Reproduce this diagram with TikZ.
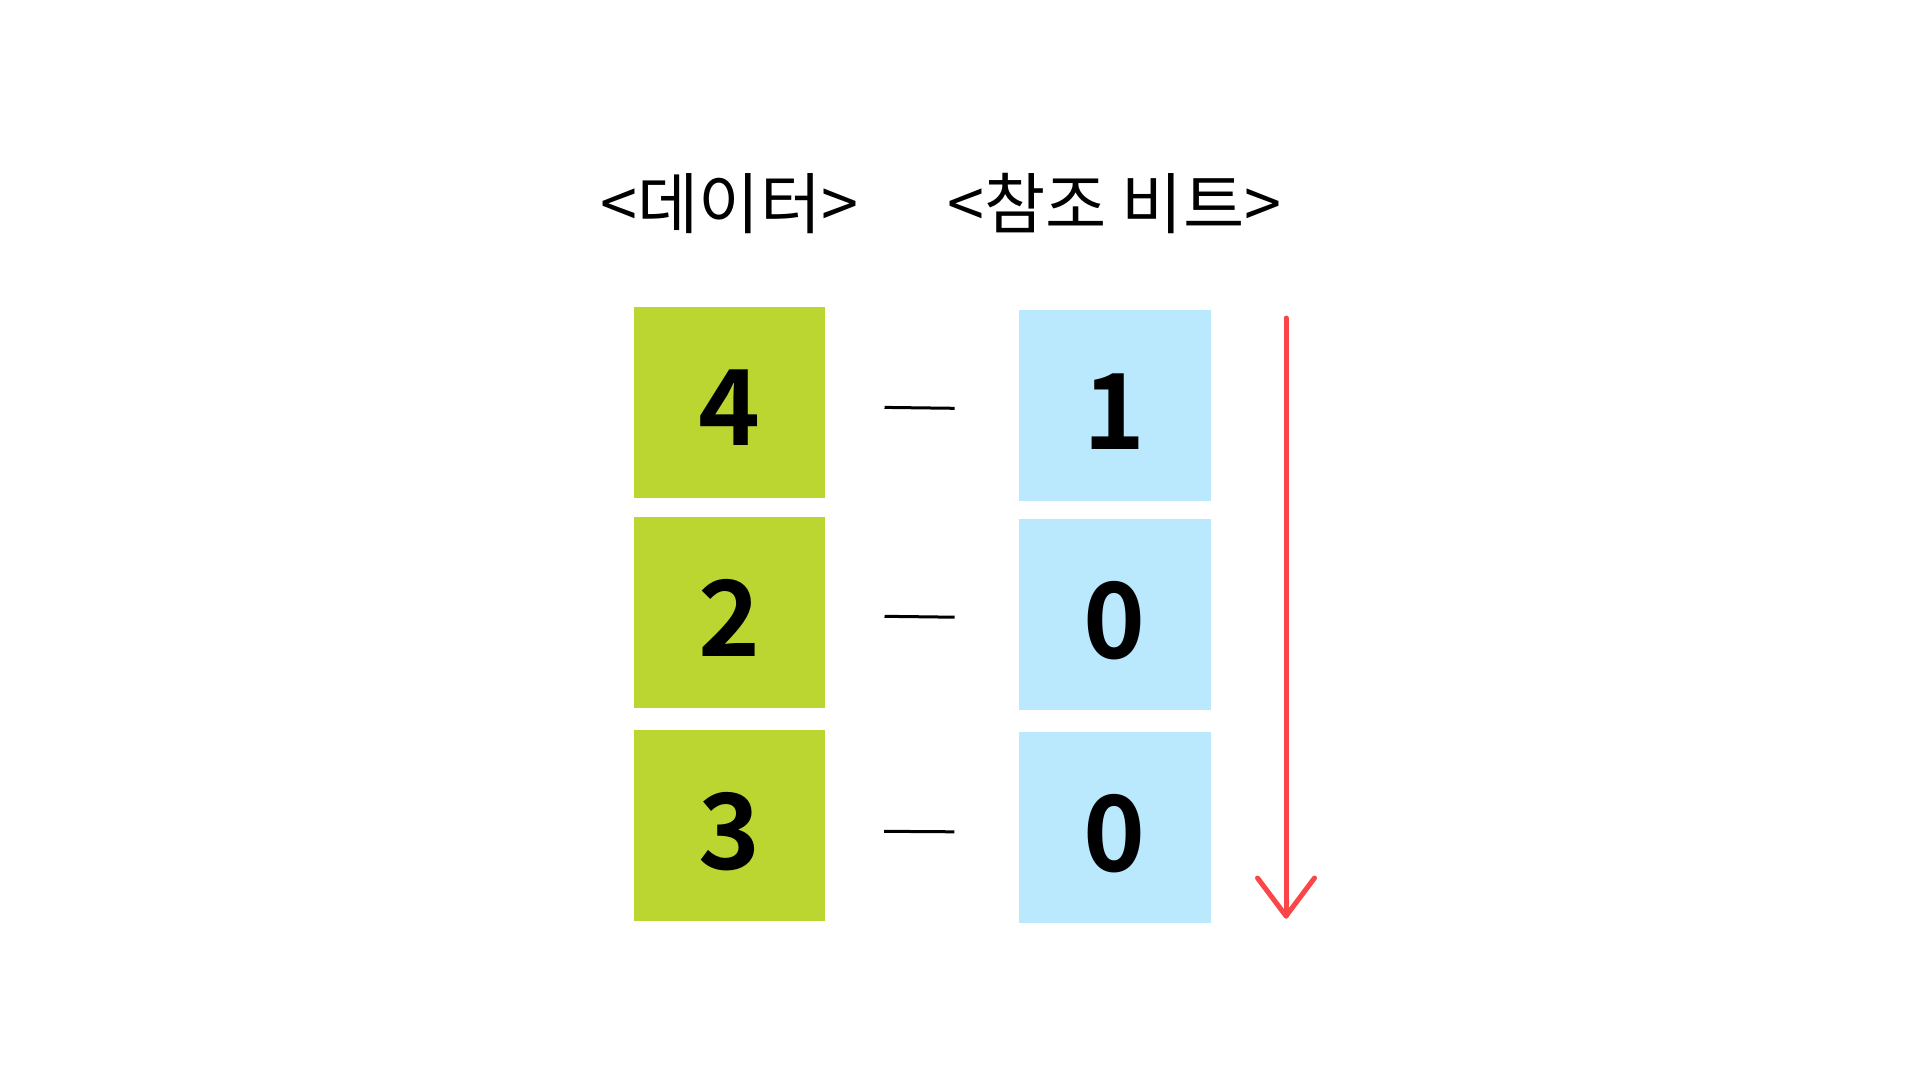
\documentclass[tikz,border=0pt]{standalone}
\usepackage{fontspec}
\newfontfamily\kr{Noto Sans CJK KR}
\newfontfamily\krb{Noto Sans CJK KR Bold}
\usetikzlibrary{calc}
\definecolor{dgreen}{RGB}{187,213,49}
\definecolor{dblue}{RGB}{186,232,253}
\definecolor{dred}{RGB}{250,70,72}
\tikzset{
  gbox/.style={fill=dgreen, draw=none, minimum width=191pt, minimum height=191pt, inner sep=0pt},
  bbox/.style={fill=dblue, draw=none, minimum width=192pt, minimum height=191pt, inner sep=0pt},
  digit/.style={font=\krb\fontsize{105}{110}\selectfont, inner sep=0pt, anchor=base},
  title/.style={font=\kr\fontsize{66.5}{72}\selectfont, inner sep=0pt, anchor=base},
  dashline/.style={line width=3pt, black},
  redline/.style={line width=5pt, dred, line cap=round, line join=round}
}
\begin{document}
\begin{tikzpicture}[x=1pt,y=-1pt]
\useasboundingbox (0,0) rectangle (1920,1080);
\fill[white] (0,0) rectangle (1920,1080);
% titles
\node[title] (t1) at (729.5,228) {<데이터>};
\node[title] (t2) at (1114.5,228) {<참조 비트>};
% boxes
\node[gbox] (g1) at (729.8,402.9) {};
\node[gbox] (g2) at (729.8,612.3) {};
\node[gbox] (g3) at (729.4,825.3) {};
\node[bbox] (b1) at (1114.9,405.3) {};
\node[bbox] (b2) at (1114.9,614.7) {};
\node[bbox] (b3) at (1114.6,827.8) {};
% digits
\node[digit] (d1) at ($(g1.center)+(0,43)$) {4};
\node[digit] (d2) at ($(g2.center)+(0,44)$) {2};
\node[digit] (d3) at ($(g3.center)+(0,44)$) {3};
\node[digit] (e1) at ($(b1.center)+(0,44)$) {1};
\node[digit] (e2) at ($(b2.center)+(0,44)$) {0};
\node[digit] (e3) at ($(b3.center)+(0,44)$) {0};
% dashes
\draw[dashline] ($(g1.east)+(59,4.5)$) -- ($(b1.west)+(-64,3)$);
\draw[dashline] ($(g2.east)+(59,4)$) -- ($(b2.west)+(-64,2.5)$);
\draw[dashline] ($(g3.east)+(59,6)$) -- ($(b3.west)+(-64,4)$);
% arrow
\coordinate (atop) at (1286,318);
\coordinate (abot) at (1286,916);
\draw[redline] (atop) -- (abot);
\draw[redline] ($(abot)+(-28.5,-38)$) -- (abot) -- ($(abot)+(28.5,-38)$);
\end{tikzpicture}
\end{document}
